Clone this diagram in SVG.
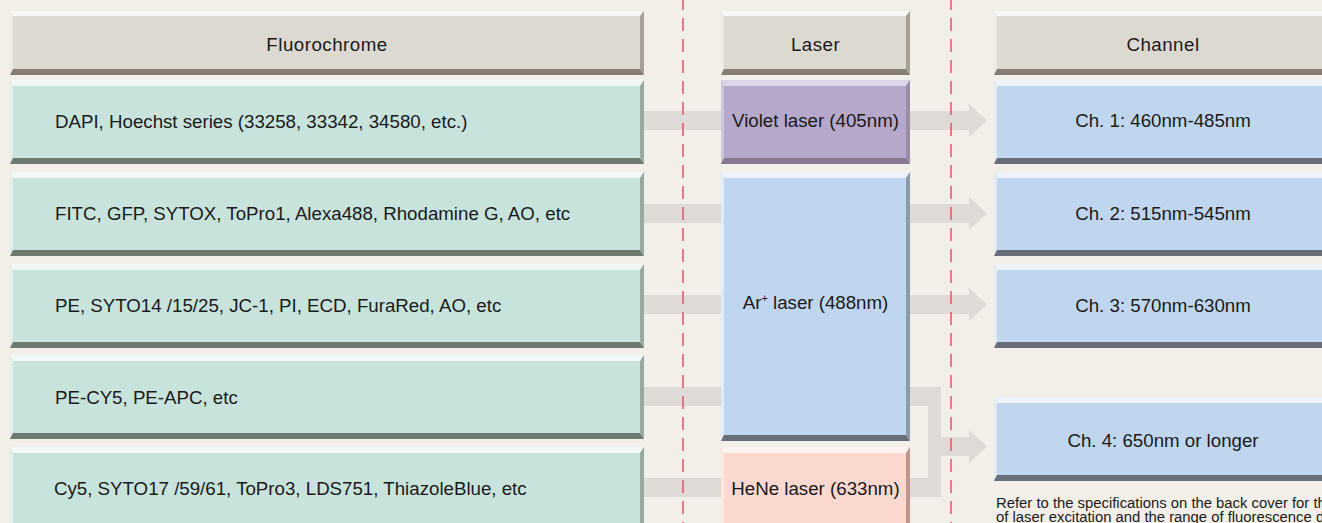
<svg xmlns="http://www.w3.org/2000/svg" width="1322" height="523" viewBox="0 0 1322 523">
  <style>
    .bg { fill: #f2efe9; }
    .band { fill: #dedad5; }
    .divider { stroke: #e0566f; stroke-width: 1.5; stroke-dasharray: 13 8; fill: none; }
    .lbl { font-family: "Liberation Sans", Arial, sans-serif; font-size: 18.7px; fill: #1a1a1a; }
    .mid { text-anchor: middle; }
    .head { letter-spacing: 0.5px; }
    .note { font-family: "Liberation Sans", Arial, sans-serif; font-size: 15px; fill: #1a1a1a; }

    /* bevelled box palettes: face / top / left / bottom / right */
    .hdr .face { fill: #dcd9d1; } .hdr .t { fill: #f8f7f4; } .hdr .l { fill: #ecebe6; } .hdr .b { fill: #857c74; } .hdr .r { fill: #a8a097; }
    .flu .face { fill: #c8e3dc; } .flu .t { fill: #f2f8f6; } .flu .l { fill: #e2efeb; } .flu .b { fill: #6e7a70; } .flu .r { fill: #97aaa2; }
    .vio .face { fill: #b6a8cb; } .vio .t { fill: #ddd4e8; } .vio .l { fill: #d0c6de; } .vio .b { fill: #877791; } .vio .r { fill: #9b8ca6; }
    .blu .face { fill: #c0d6ee; } .blu .t { fill: #eef3fa; } .blu .l { fill: #e2ecf6; } .blu .b { fill: #686e77; } .blu .r { fill: #8f9aa7; }
    .hene .face { fill: #fbd9d1; } .hene .t { fill: #fdf4f1; } .hene .l { fill: #fce9e4; } .hene .b { fill: #b8918b; } .hene .r { fill: #bf9590; }
  </style>

  <rect class="bg" x="0" y="0" width="1322" height="523"/>

  <!-- connectors: wide light bands with block arrowheads -->
  <g id="connectors">
    <rect class="band" x="640" y="111" width="85" height="19"/>
    <rect class="band" x="640" y="204" width="85" height="19"/>
    <rect class="band" x="640" y="295" width="85" height="19"/>
    <rect class="band" x="640" y="387" width="85" height="19"/>
    <rect class="band" x="640" y="478" width="85" height="19"/>
    <polygon class="band" points="905,111 969,111 969,104 987,120.5 969,137 969,130 905,130"/>
    <polygon class="band" points="905,204 969,204 969,197 987,213.5 969,230 969,223 905,223"/>
    <polygon class="band" points="905,295 969,295 969,288 987,304.5 969,321 969,314 905,314"/>
    <polygon class="band" points="905,387 941,387 941,437 969,437 969,430 987,446.5 969,463 969,456 941,456 941,497 905,497 905,478 928,478 928,406 905,406"/>
  </g>

  <!-- column headers -->
  <g id="hdr-fluorochrome" class="hdr">
    <rect class="face" x="10" y="11" width="634" height="64"/>
    <polygon class="t" points="10,11 644,11 640,16 13,16"/>
    <polygon class="l" points="10,11 13,16 13,69 10,75"/>
    <polygon class="b" points="10,75 13,69 640,69 644,75"/>
    <polygon class="r" points="644,11 644,75 640,69 640,16"/>
    <text class="lbl mid head" x="327" y="51">Fluorochrome</text>
  </g>
  <g id="hdr-laser" class="hdr">
    <rect class="face" x="721" y="11" width="189" height="64"/>
    <polygon class="t" points="721,11 910,11 906,16 724,16"/>
    <polygon class="l" points="721,11 724,16 724,69 721,75"/>
    <polygon class="b" points="721,75 724,69 906,69 910,75"/>
    <polygon class="r" points="910,11 910,75 906,69 906,16"/>
    <text class="lbl mid head" x="815.5" y="51">Laser</text>
  </g>
  <g id="hdr-channel" class="hdr">
    <rect class="face" x="994" y="11" width="340" height="64"/>
    <polygon class="t" points="994,11 1334,11 1330,16 997,16"/>
    <polygon class="l" points="994,11 997,16 997,69 994,75"/>
    <polygon class="b" points="994,75 997,69 1330,69 1334,75"/>
    <text class="lbl mid head" x="1163" y="51">Channel</text>
  </g>

  <!-- fluorochrome rows -->
  <g id="flu-1" class="flu">
    <rect class="face" x="10" y="80" width="634" height="84"/>
    <polygon class="t" points="10,80 644,80 640,86 13,86"/>
    <polygon class="l" points="10,80 13,86 13,158 10,164"/>
    <polygon class="b" points="10,164 13,158 640,158 644,164"/>
    <polygon class="r" points="644,80 644,164 640,158 640,86"/>
    <text class="lbl" x="55" y="128">DAPI, Hoechst series (33258, 33342, 34580, etc.)</text>
  </g>
  <g id="flu-2" class="flu">
    <rect class="face" x="10" y="172" width="634" height="84"/>
    <polygon class="t" points="10,172 644,172 640,178 13,178"/>
    <polygon class="l" points="10,172 13,178 13,250 10,256"/>
    <polygon class="b" points="10,256 13,250 640,250 644,256"/>
    <polygon class="r" points="644,172 644,256 640,250 640,178"/>
    <text class="lbl" x="55" y="220">FITC, GFP, SYTOX, ToPro1, Alexa488, Rhodamine G, AO, etc</text>
  </g>
  <g id="flu-3" class="flu">
    <rect class="face" x="10" y="264" width="634" height="84"/>
    <polygon class="t" points="10,264 644,264 640,270 13,270"/>
    <polygon class="l" points="10,264 13,270 13,342 10,348"/>
    <polygon class="b" points="10,348 13,342 640,342 644,348"/>
    <polygon class="r" points="644,264 644,348 640,342 640,270"/>
    <text class="lbl" x="55" y="312">PE, SYTO14 /15/25, JC-1, PI, ECD, FuraRed, AO, etc</text>
  </g>
  <g id="flu-4" class="flu">
    <rect class="face" x="10" y="355" width="634" height="84"/>
    <polygon class="t" points="10,355 644,355 640,361 13,361"/>
    <polygon class="l" points="10,355 13,361 13,433 10,439"/>
    <polygon class="b" points="10,439 13,433 640,433 644,439"/>
    <polygon class="r" points="644,355 644,439 640,433 640,361"/>
    <text class="lbl" x="55" y="404">PE-CY5, PE-APC, etc</text>
  </g>
  <g id="flu-5" class="flu">
    <rect class="face" x="10" y="447" width="634" height="90"/>
    <polygon class="t" points="10,447 644,447 640,453 13,453"/>
    <polygon class="l" points="10,447 13,453 13,537 10,537"/>
    <polygon class="r" points="644,447 644,537 640,537 640,453"/>
    <text class="lbl" x="54" y="495">Cy5, SYTO17 /59/61, ToPro3, LDS751, ThiazoleBlue, etc</text>
  </g>

  <!-- lasers -->
  <g id="laser-violet" class="vio">
    <rect class="face" x="721" y="80" width="189" height="84"/>
    <polygon class="t" points="721,80 910,80 906,86 724,86"/>
    <polygon class="l" points="721,80 724,86 724,158 721,164"/>
    <polygon class="b" points="721,164 724,158 906,158 910,164"/>
    <polygon class="r" points="910,80 910,164 906,158 906,86"/>
    <text class="lbl mid" x="815.5" y="127">Violet laser (405nm)</text>
  </g>
  <g id="laser-ar" class="blu">
    <rect class="face" x="721" y="172" width="189" height="269"/>
    <polygon class="t" points="721,172 910,172 906,178 724,178"/>
    <polygon class="l" points="721,172 724,178 724,435 721,441"/>
    <polygon class="b" points="721,441 724,435 906,435 910,441"/>
    <polygon class="r" points="910,172 910,441 906,435 906,178"/>
    <text class="lbl mid" x="815.5" y="309">Ar<tspan font-size="11" dy="-7">+</tspan><tspan dy="7"> laser (488nm)</tspan></text>
  </g>
  <g id="laser-hene" class="hene">
    <rect class="face" x="721" y="447" width="189" height="90"/>
    <polygon class="t" points="721,447 910,447 906,453 724,453"/>
    <polygon class="l" points="721,447 724,453 724,537 721,537"/>
    <polygon class="r" points="910,447 910,537 906,537 906,453"/>
    <text class="lbl mid" x="815.5" y="495">HeNe laser (633nm)</text>
  </g>

  <!-- detection channels -->
  <g id="ch-1" class="blu">
    <rect class="face" x="994" y="80" width="340" height="84"/>
    <polygon class="t" points="994,80 1334,80 1330,86 997,86"/>
    <polygon class="l" points="994,80 997,86 997,158 994,164"/>
    <polygon class="b" points="994,164 997,158 1330,158 1334,164"/>
    <text class="lbl mid" x="1163" y="127">Ch. 1: 460nm-485nm</text>
  </g>
  <g id="ch-2" class="blu">
    <rect class="face" x="994" y="172" width="340" height="84"/>
    <polygon class="t" points="994,172 1334,172 1330,178 997,178"/>
    <polygon class="l" points="994,172 997,178 997,250 994,256"/>
    <polygon class="b" points="994,256 997,250 1330,250 1334,256"/>
    <text class="lbl mid" x="1163" y="220">Ch. 2: 515nm-545nm</text>
  </g>
  <g id="ch-3" class="blu">
    <rect class="face" x="994" y="264" width="340" height="84"/>
    <polygon class="t" points="994,264 1334,264 1330,270 997,270"/>
    <polygon class="l" points="994,264 997,270 997,342 994,348"/>
    <polygon class="b" points="994,348 997,342 1330,342 1334,348"/>
    <text class="lbl mid" x="1163" y="312">Ch. 3: 570nm-630nm</text>
  </g>
  <g id="ch-4" class="blu">
    <rect class="face" x="994" y="397" width="340" height="84"/>
    <polygon class="t" points="994,397 1334,397 1330,403 997,403"/>
    <polygon class="l" points="994,397 997,403 997,475 994,481"/>
    <polygon class="b" points="994,481 997,475 1330,475 1334,481"/>
    <text class="lbl mid" x="1163" y="447">Ch. 4: 650nm or longer</text>
  </g>

  <!-- dashed column dividers -->
  <line class="divider" x1="683" y1="-3" x2="683" y2="530"/>
  <line class="divider" x1="951" y1="-3" x2="951" y2="530"/>

  <!-- footnote, set slightly condensed; runs off the right edge -->
  <g id="footnote" transform="translate(996,0) scale(0.99,1)">
    <text class="note" x="0" y="508">Refer to the specifications on the back cover for the</text>
    <text class="note" x="0" y="522">of laser excitation and the range of fluorescence detection</text>
  </g>
</svg>
